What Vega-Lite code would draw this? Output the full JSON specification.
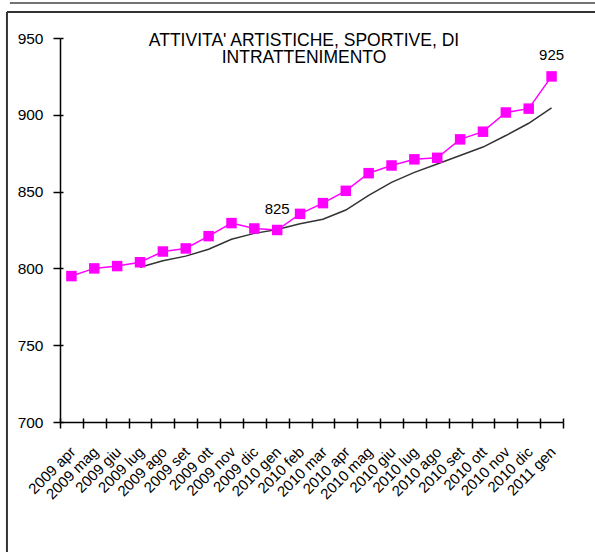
{
  "$schema": "https://vega.github.io/schema/vega-lite/v6.json",
  "width": 503,
  "height": 384,
  "autosize": {"type": "none"},
  "padding": {"left": 60, "top": 38, "right": 32, "bottom": 130},
  "background": "white",
  "config": {"view": {"stroke": null}, "font": "Liberation Sans"},
  "title": {
    "text": ["ATTIVITA' ARTISTICHE, SPORTIVE, DI", "INTRATTENIMENTO"],
    "font": "Liberation Sans",
    "fontSize": 17.5,
    "fontWeight": "normal",
    "color": "#000000",
    "anchor": "middle",
    "frame": "group",
    "baseline": "alphabetic",
    "lineHeight": 17.7,
    "offset": 0,
    "dx": -7.5,
    "dy": 78.5
  },
  "data": {
    "values": [
      {"month": "2009 apr", "value": 795, "trend": null, "label": null},
      {"month": "2009 mag", "value": 800, "trend": null, "label": null},
      {"month": "2009 giu", "value": 801.5, "trend": null, "label": null},
      {"month": "2009 lug", "value": 804, "trend": 800.7, "label": null},
      {"month": "2009 ago", "value": 811, "trend": 805, "label": null},
      {"month": "2009 set", "value": 813, "trend": 808, "label": null},
      {"month": "2009 ott", "value": 821, "trend": 812.5, "label": null},
      {"month": "2009 nov", "value": 829.5, "trend": 819, "label": null},
      {"month": "2009 dic", "value": 826, "trend": 822.8, "label": null},
      {"month": "2010 gen", "value": 825, "trend": 825.3, "label": "825"},
      {"month": "2010 feb", "value": 835.5, "trend": 829, "label": null},
      {"month": "2010 mar", "value": 842.5, "trend": 832, "label": null},
      {"month": "2010 apr", "value": 850.5, "trend": 838, "label": null},
      {"month": "2010 mag", "value": 862, "trend": 847.5, "label": null},
      {"month": "2010 giu", "value": 867, "trend": 856, "label": null},
      {"month": "2010 lug", "value": 871, "trend": 862.5, "label": null},
      {"month": "2010 ago", "value": 872, "trend": 868, "label": null},
      {"month": "2010 set", "value": 884, "trend": 873.5, "label": null},
      {"month": "2010 ott", "value": 889, "trend": 879, "label": null},
      {"month": "2010 nov", "value": 901.5, "trend": 886.5, "label": null},
      {"month": "2010 dic", "value": 904, "trend": 894.5, "label": null},
      {"month": "2011 gen", "value": 925, "trend": 904.5, "label": "925"}
    ]
  },
  "layer": [
    {
      "data": {"values": [{"frame": "box"}]},
      "layer": [
        {
          "mark": {"type": "rule", "color": "#333333", "strokeWidth": 2},
          "encoding": {
            "x": {"datum": -2.32, "type": "quantitative", "scale": {"domain": [0, 22], "nice": false, "zero": false}, "axis": null},
            "x2": {"datum": 25},
            "y": {"datum": 966.9, "type": "quantitative", "scale": {"domain": [700, 950], "nice": false, "zero": false}, "axis": null}
          }
        },
        {
          "mark": {"type": "rule", "color": "#333333", "strokeWidth": 2},
          "encoding": {
            "x": {"datum": -2.32, "type": "quantitative", "scale": {"domain": [0, 22], "nice": false, "zero": false}, "axis": null},
            "y": {"datum": 966.9, "type": "quantitative", "scale": {"domain": [700, 950], "nice": false, "zero": false}, "axis": null},
            "y2": {"datum": 600}
          }
        },
        {
          "mark": {"type": "rule", "color": "#444444", "strokeWidth": 1.5},
          "encoding": {
            "x": {"datum": -2.19, "type": "quantitative", "scale": {"domain": [0, 22], "nice": false, "zero": false}, "axis": null},
            "x2": {"datum": 25},
            "y": {"datum": 972.8, "type": "quantitative", "scale": {"domain": [700, 950], "nice": false, "zero": false}, "axis": null}
          }
        }
      ]
    },
    {
      "mark": {"type": "point", "opacity": 0},
      "encoding": {
        "x": {
          "field": "month", "type": "nominal", "sort": null,
          "scale": {"type": "band", "paddingInner": 0, "paddingOuter": 0},
          "axis": {"orient": "bottom", "title": null, "tickBand": "extent", "domain": false, "labels": false, "tickColor": "#000000", "tickWidth": 1.5, "tickSize": -4, "grid": false}
        },
        "y": {
          "field": "value", "type": "quantitative",
          "scale": {"domain": [700, 950], "nice": false, "zero": false},
          "axis": {"orient": "left", "title": null, "values": [700, 750, 800, 850, 900, 950], "domain": false, "labels": false, "tickColor": "#000000", "tickWidth": 1.5, "tickSize": -3, "grid": false}
        }
      }
    },
    {
      "encoding": {
        "x": {
          "field": "month",
          "type": "nominal",
          "sort": null,
          "bandPosition": 0.5,
          "scale": {"type": "band", "paddingInner": 0, "paddingOuter": 0},
          "axis": {
            "orient": "bottom",
            "title": null,
            "tickBand": "extent",
            "domainColor": "#000000",
            "domainWidth": 1.5,
            "tickColor": "#000000",
            "tickWidth": 1.5,
            "tickSize": 6,
            "labelAngle": 315,
            "labelAlign": "right",
            "labelBaseline": "middle",
            "labelPadding": 21,
            "labelOffset": 1,
            "labelFontSize": 15,
            "labelFont": "Liberation Sans",
            "labelColor": "#000000",
            "labelOverlap": false,
            "labelBound": false,
            "labelFlush": false,
            "grid": false
          }
        }
      },
      "layer": [
        {
          "mark": {"type": "line", "color": "#333333", "strokeWidth": 1.5},
          "encoding": {
            "y": {"field": "trend", "type": "quantitative", "scale": {"domain": [700, 950], "nice": false, "zero": false},
              "axis": {
                "orient": "left",
                "title": null,
                "values": [700, 750, 800, 850, 900, 950],
                "domainColor": "#000000",
                "domainWidth": 1.5,
                "tickColor": "#000000",
                "tickWidth": 1.5,
                "tickSize": 7,
                "labelPadding": 10,
                "labelFontSize": 15.5,
                "labelFont": "Liberation Sans",
                "labelColor": "#000000",
                "grid": false
              }
            }
          }
        },
        {
          "mark": {"type": "line", "color": "#FF00FF", "strokeWidth": 1.5},
          "encoding": {"y": {"field": "value", "type": "quantitative"}}
        },
        {
          "mark": {"type": "point", "shape": "square", "filled": true, "size": 110, "color": "#FF00FF", "opacity": 1},
          "encoding": {"y": {"field": "value", "type": "quantitative"}}
        },
        {
          "transform": [{"filter": "datum.label != null"}],
          "mark": {"type": "text", "baseline": "alphabetic", "dy": -16, "fontSize": 15, "font": "Liberation Sans", "color": "#000000"},
          "encoding": {
            "y": {"field": "value", "type": "quantitative"},
            "text": {"field": "label"}
          }
        }
      ]
    }
  ],
  "resolve": {"scale": {"x": "independent", "y": "independent"}}
}
